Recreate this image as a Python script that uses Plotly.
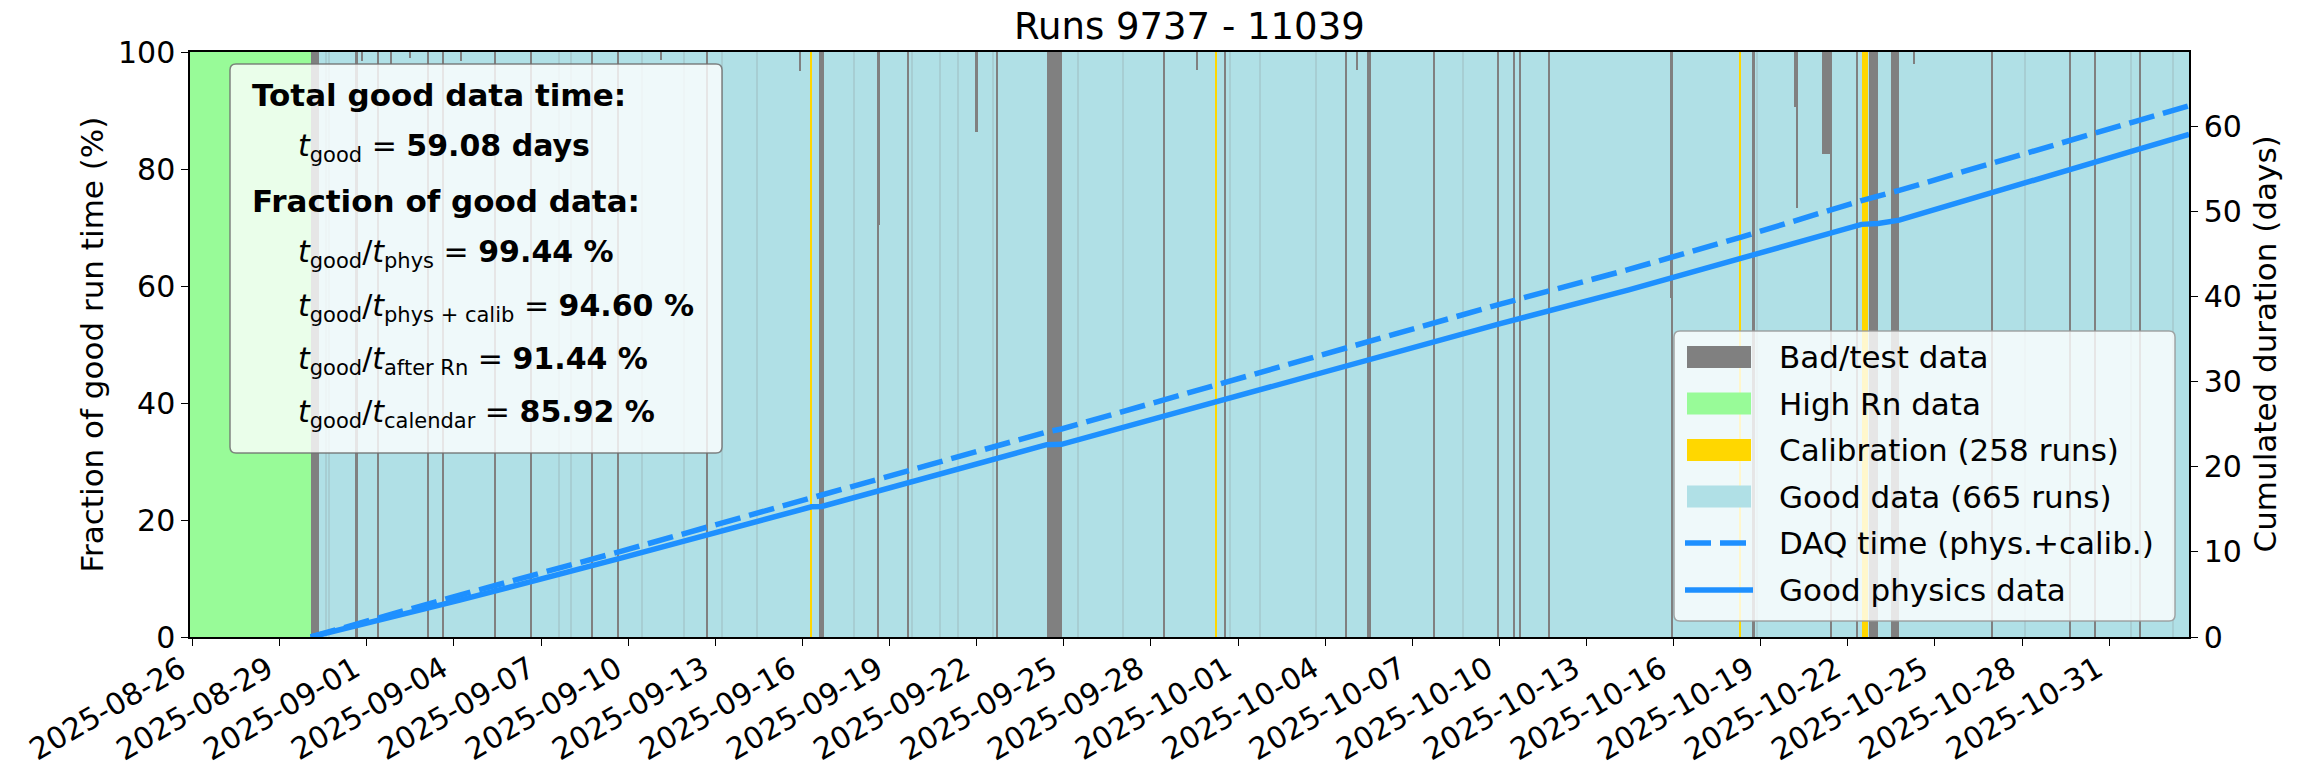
import pandas as pd
import plotly.graph_objects as go

# ---------------- data ----------------
TITLE = "Runs 9737 - 11039"

t_first = "2025-08-25 21:50"   # start of first run
t_last = "2025-11-02 18:00"    # end of last run

rn_start, rn_end = "2025-08-25 21:50", "2025-08-30 01:30"
good_start, good_end = "2025-08-30 01:30", "2025-11-02 18:00"

# fully bad / test runs (centre time, duration in hours)
bad_centers = ["2025-08-30 05:05", "2025-08-31 15:30", "2025-09-01 09:20", "2025-09-03 02:40",
               "2025-09-03 15:00", "2025-09-05 10:00", "2025-09-06 16:00", "2025-09-08 17:50",
               "2025-09-09 15:50", "2025-09-12 16:50", "2025-09-16 15:50", "2025-09-18 14:40",
               "2025-09-19 15:20", "2025-09-22 17:20", "2025-09-24 16:00", "2025-09-28 11:20",
               "2025-09-30 13:10", "2025-10-04 17:50", "2025-10-05 12:35", "2025-10-07 18:10",
               "2025-10-09 23:00", "2025-10-10 12:00", "2025-10-10 17:30", "2025-10-11 17:00",
               "2025-10-15 22:20", "2025-10-18 18:20", "2025-10-21 10:30", "2025-10-22 07:40",
               "2025-10-22 21:15", "2025-10-23 15:15", "2025-10-26 23:20", "2025-10-29 16:00",
               "2025-10-30 12:40", "2025-11-01 01:20"]
bad_hours = [7.2, 2.2, 1.2, 1.2,
             1.2, 1.2, 1.2, 1.8,
             1.8, 1.8, 4.5, 1.0,
             1.0, 1.2, 12.3, 1.2,
             1.2, 1.2, 3.5, 1.2,
             1.2, 1.2, 1.2, 1.2,
             0.8, 1.6, 1.2, 1.2,
             7.5, 6.5, 1.2, 1.2,
             1.2, 1.2]

# calibration runs (centre time, duration in hours)
calib_centers = ["2025-09-16 07:30", "2025-09-30 05:50", "2025-10-18 07:00", "2025-10-22 14:05"]
calib_hours = [1.4, 1.5, 0.5, 5.5]

# runs partially bad: good fraction (%) below, bad part on top
partial_centers = ["2025-08-31 20:00", "2025-09-01 20:00", "2025-09-02 12:00", "2025-09-04 06:00",
                   "2025-09-11 03:40", "2025-09-15 22:00", "2025-09-18 14:40", "2025-09-19 15:20",
                   "2025-09-22 00:00", "2025-09-29 14:00", "2025-10-05 02:40", "2025-10-15 22:20",
                   "2025-10-20 04:40", "2025-10-20 06:10", "2025-10-21 06:45", "2025-10-24 07:00"]
partial_good_pct = [98.5, 98.0, 99.0, 98.5,
                    98.7, 96.7, 70.5, 88.5,
                    86.4, 97.0, 97.0, 58.0,
                    90.6, 73.3, 82.6, 98.0]
partial_hours = [1.2, 1.2, 1.2, 1.2,
                 1.2, 1.2, 2.6, 2.0,
                 1.6, 1.2, 1.2, 2.2,
                 2.0, 1.4, 7.5, 1.2]

# faint run boundaries inside the good data
faint_centers = ["2025-08-30 14:10", "2025-08-30 16:40", "2025-09-07 14:30", "2025-09-08 01:00",
                 "2025-09-10 11:20", "2025-09-11 21:50", "2025-09-13 05:30", "2025-09-14 10:20",
                 "2025-09-17 18:30", "2025-09-19 19:00", "2025-09-20 17:30", "2025-09-21 08:40",
                 "2025-09-22 13:40", "2025-09-25 12:00", "2025-09-27 01:10", "2025-09-30 17:20",
                 "2025-10-01 18:00", "2025-10-03 16:50", "2025-10-08 18:00", "2025-10-18 20:40",
                 "2025-10-28 02:10", "2025-10-31 18:30", "2025-11-02 04:50"]

# cumulated durations (days)
cum_times = ["2025-08-30 01:30", "2025-09-04 04:00", "2025-09-09 18:40", "2025-09-16 07:30",
             "2025-09-16 16:00", "2025-09-19 15:20", "2025-09-24 09:50", "2025-09-24 22:10",
             "2025-09-28 11:20", "2025-09-30 05:50", "2025-10-05 12:00", "2025-10-10 00:00",
             "2025-10-14 11:00", "2025-10-18 08:00", "2025-10-22 11:20", "2025-10-23 01:00",
             "2025-10-23 18:30", "2025-10-31 19:00", "2025-11-02 18:00"]
cum_daq_days = [0.0, 4.9, 10.1, 16.4, 16.6, 19.5, 24.1, 24.45, 27.9, 29.6,
                34.7, 39.1, 43.2, 47.0, 51.3, 51.8, 52.5, 60.5, 62.45]
cum_good_days = [0.0, 4.3, 9.3, 15.3, 15.35, 18.1, 22.6, 22.65, 26.0, 27.6,
                 32.5, 36.8, 40.8, 44.5, 48.5, 48.6, 49.0, 57.1, 59.08]

t_calendar_days = 68.76

xtick_labels = ["2025-08-26", "2025-08-29", "2025-09-01", "2025-09-04", "2025-09-07", "2025-09-10",
                "2025-09-13", "2025-09-16", "2025-09-19", "2025-09-22", "2025-09-25", "2025-09-28",
                "2025-10-01", "2025-10-04", "2025-10-07", "2025-10-10", "2025-10-13", "2025-10-16",
                "2025-10-19", "2025-10-22", "2025-10-25", "2025-10-28", "2025-10-31"]
ytick_left = [0, 20, 40, 60, 80, 100]
ytick_right = [0, 10, 20, 30, 40, 50, 60]

stats_lines = [
    ("Total good data time:", True),
    ("<i>t</i><sub>good</sub> = <b>59.08 days</b>", False),
    ("Fraction of good data:", True),
    ("<i>t</i><sub>good</sub>/<i>t</i><sub>phys</sub> = <b>99.44 %</b>", False),
    ("<i>t</i><sub>good</sub>/<i>t</i><sub>phys + calib</sub> = <b>94.60 %</b>", False),
    ("<i>t</i><sub>good</sub>/<i>t</i><sub>after Rn</sub> = <b>91.44 %</b>", False),
    ("<i>t</i><sub>good</sub>/<i>t</i><sub>calendar</sub> = <b>85.92 %</b>", False),
]

legend_labels = ["Bad/test data", "High Rn data", "Calibration (258 runs)", "Good data (665 runs)",
                 "DAQ time (phys.+calib.)", "Good physics data"]

# ---------------- styles ----------------
C_BAD = "#808080"
C_RN = "#98FB98"
C_CAL = "#FFD700"
C_GOOD = "#B0E0E6"
C_LINE = "#1E90FF"
FONT = "DejaVu Sans"
DASH = "26px,9px"
LW = 5.5

# page geometry (page pixels); body margin removed via post_script
W_FIG, H_FIG = 2307, 769
L, R, T, B = 190, 2189, 52, 637
PW, PH = R - L, B - T


def px(x):
    return (x - L) / PW


def py(y):
    return (B - y) / PH


def span_bar(start, end, color, name):
    s, e = pd.Timestamp(start), pd.Timestamp(end)
    return go.Bar(x=[s + (e - s) / 2], y=[100], base=[0],
                  width=[(e - s).total_seconds() * 1000],
                  marker=dict(color=color, line=dict(width=0)), name=name,
                  hoverinfo="skip", showlegend=False)


def runs_bar(centers, hours, color, name, base=None, opacity=1.0):
    x = pd.to_datetime(centers)
    if base is None:
        base = [0] * len(centers)
        heights = [100] * len(centers)
    else:
        heights = [100 - b for b in base]
    return go.Bar(x=x, y=heights, base=base, width=[h * 3600 * 1000 for h in hours],
                  marker=dict(color=color, line=dict(width=0)), opacity=opacity,
                  name=name, hoverinfo="skip", showlegend=False)


fig = go.Figure()
fig.add_trace(span_bar(rn_start, rn_end, C_RN, "High Rn data"))
fig.add_trace(span_bar(good_start, good_end, C_GOOD, "Good data"))
fig.add_trace(runs_bar(faint_centers, [1.0] * len(faint_centers), C_BAD, "faint", opacity=0.18))
fig.add_trace(runs_bar(calib_centers, calib_hours, C_CAL, "Calibration"))
fig.add_trace(runs_bar(bad_centers, bad_hours, C_BAD, "Bad/test data"))
fig.add_trace(runs_bar(partial_centers, partial_hours, C_BAD, "Bad part", base=partial_good_pct))

fig.add_trace(go.Scatter(x=pd.to_datetime(cum_times), y=cum_daq_days, yaxis="y2", mode="lines",
                         line=dict(color=C_LINE, width=LW, dash=DASH),
                         name="DAQ time (phys.+calib.)", showlegend=False, hoverinfo="skip"))
fig.add_trace(go.Scatter(x=pd.to_datetime(cum_times), y=cum_good_days, yaxis="y2", mode="lines",
                         line=dict(color=C_LINE, width=LW),
                         name="Good physics data", showlegend=False, hoverinfo="skip"))

axis_common = dict(showline=True, linecolor="black", linewidth=1.5, ticks="outside",
                   ticklen=7, tickwidth=1.3, tickcolor="black", showgrid=False, zeroline=False,
                   tickfont=dict(family=FONT, size=30, color="black"))

fig.update_layout(
    width=W_FIG, height=H_FIG,
    margin=dict(l=L, r=W_FIG - R, t=T, b=H_FIG - B, autoexpand=False),
    paper_bgcolor="white", plot_bgcolor="white",
    barmode="overlay", bargap=0, showlegend=False,
    font=dict(family=FONT, color="black"),
    xaxis=dict(type="date", range=[t_first, t_last], tickvals=xtick_labels,
               showticklabels=False, mirror=True, **axis_common),
    yaxis=dict(range=[0, 100], tickvals=ytick_left, mirror=False, **axis_common),
    yaxis2=dict(range=[0, t_calendar_days], tickvals=ytick_right, overlaying="y", side="right",
                **axis_common),
)

annotations = []
shapes = []

# x tick labels (rotated, right-aligned to the tick like matplotlib)
for lab in xtick_labels:
    annotations.append(dict(text=lab, xref="x", yref="paper", x=lab, y=py(648),
                            xanchor="right", yanchor="top", textangle=-30, showarrow=False,
                            borderpad=0, font=dict(family=FONT, size=30, color="black")))

# title
annotations.append(dict(text=TITLE, xref="paper", yref="paper", x=0.5, y=py(27),
                        xanchor="center", yanchor="middle", showarrow=False, borderpad=0,
                        font=dict(family=FONT, size=37, color="black")))
# axis titles
annotations.append(dict(text="Fraction of good run time (%)", xref="paper", yref="paper",
                        x=px(91), y=0.5, textangle=-90, xanchor="center", yanchor="middle",
                        showarrow=False, font=dict(family=FONT, size=31, color="black")))
annotations.append(dict(text="Cumulated duration (days)", xref="paper", yref="paper",
                        x=px(2264), y=0.5, textangle=-90, xanchor="center", yanchor="middle",
                        showarrow=False, font=dict(family=FONT, size=31, color="black")))


def rounded_rect(x0, y0, x1, y1, r):
    rx, ry = r / PW, r / PH
    a0, b0, a1, b1 = px(x0), py(y1), px(x1), py(y0)
    return (f"M {a0+rx},{b0} L {a1-rx},{b0} Q {a1},{b0} {a1},{b0+ry} "
            f"L {a1},{b1-ry} Q {a1},{b1} {a1-rx},{b1} L {a0+rx},{b1} "
            f"Q {a0},{b1} {a0},{b1-ry} L {a0},{b0+ry} Q {a0},{b0} {a0+rx},{b0} Z")


# stats box
shapes.append(dict(type="path", xref="paper", yref="paper", path=rounded_rect(230, 64, 722, 453, 6),
                   fillcolor="rgba(255,255,255,0.8)", line=dict(color="rgba(110,110,110,0.85)", width=1.5),
                   layer="above"))
stat_y = [95, 147, 201, 253, 307, 360, 413]
for (txt, header), yy in zip(stats_lines, stat_y):
    annotations.append(dict(text=f"<b>{txt}</b>" if header else txt, xref="paper", yref="paper",
                            x=px(250 if header else 296), y=py(yy), xanchor="left", yanchor="middle",
                            showarrow=False,
                            font=dict(family=FONT, size=31 if header else 30, color="black")))

# legend box
shapes.append(dict(type="path", xref="paper", yref="paper", path=rounded_rect(1674, 331, 2175, 621, 6),
                   fillcolor="rgba(255,255,255,0.8)", line=dict(color="rgba(150,150,150,0.85)", width=1.5),
                   layer="above"))
row_y = [357, 403.5, 450, 496.5, 543, 590]
patch_colors = [C_BAD, C_RN, C_CAL, C_GOOD]
for i, lab in enumerate(legend_labels):
    yy = row_y[i]
    if i < 4:
        shapes.append(dict(type="rect", xref="paper", yref="paper", x0=px(1687), x1=px(1751),
                           y0=py(yy + 11), y1=py(yy - 11), fillcolor=patch_colors[i],
                           line=dict(width=0), layer="above"))
    else:
        shapes.append(dict(type="line", xref="paper", yref="paper", x0=px(1685), x1=px(1753),
                           y0=py(yy), y1=py(yy),
                           line=dict(color=C_LINE, width=LW, dash=DASH if i == 4 else "solid"),
                           layer="above"))
    annotations.append(dict(text=lab, xref="paper", yref="paper", x=px(1777), y=py(yy),
                            xanchor="left", yanchor="middle", showarrow=False,
                            font=dict(family=FONT, size=31, color="black")))

fig.update_layout(annotations=annotations, shapes=shapes)
fig.write_html("out.html", config={"displayModeBar": False},
               post_script="document.body.style.margin='0px';document.body.style.overflow='hidden';")
